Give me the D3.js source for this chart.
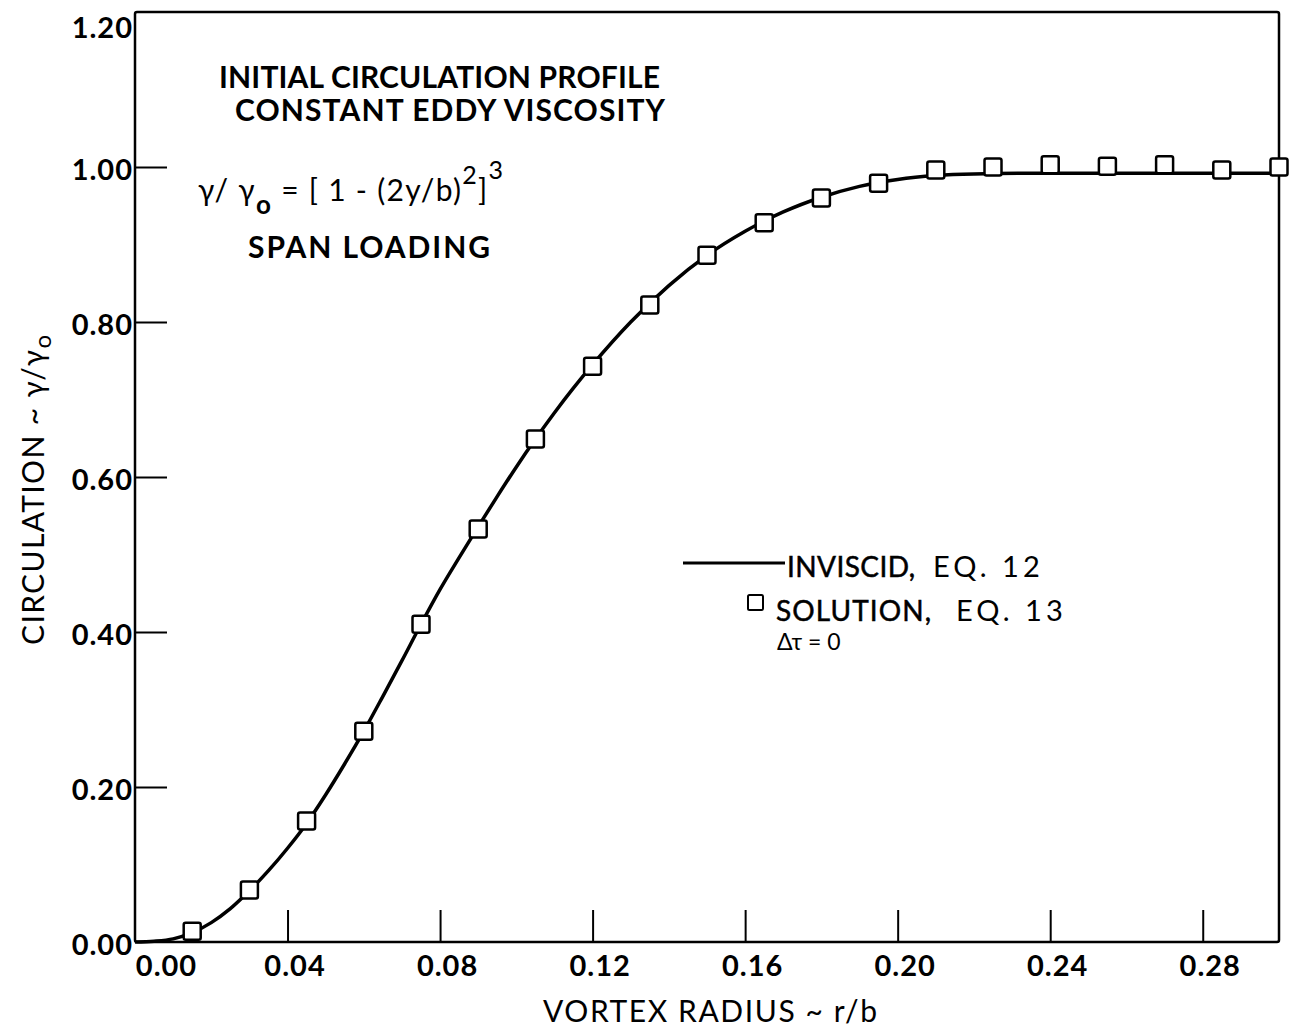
<!DOCTYPE html>
<html>
<head>
    <meta charset="utf-8">
    <style>
        body {
            margin: 0;
            background: white;
        }

        svg {
            display: block;
            font-family: 'Lato', 'Liberation Sans', sans-serif;
        }

        .tick-label {
            font-size: 29px;
            font-weight: 700;
            letter-spacing: 1px;
        }

        .note {
            font-size: 30px;
            font-weight: 700;
        }

        .legend-text {
            font-size: 28px;
            font-weight: 400;
            stroke: black;
            stroke-width: 0.5px;
        }

        .eqno {
            font-size: 29px;
            letter-spacing: 4px;
        }
    </style>
</head>

<body>
    <svg width="1292" height="1030"></svg>
</body>

<script src="https://d3js.org/d3.v7.min.js"></script>

<script>
    // inviscid curve
    const lineX = [0.000, 0.005, 0.010, 0.015, 0.020, 0.025, 0.030, 0.035, 0.040, 0.045,
        0.050, 0.055, 0.060, 0.065, 0.070, 0.075, 0.080, 0.085, 0.090, 0.095,
        0.100, 0.105, 0.110, 0.115, 0.120, 0.130, 0.140, 0.150, 0.160, 0.170,
        0.180, 0.190, 0.200, 0.210, 0.220, 0.240, 0.260, 0.280, 0.300]
    const lineY = [0.000, 0.001, 0.004, 0.012, 0.025, 0.043, 0.066, 0.092, 0.121, 0.153,
        0.190, 0.230, 0.272, 0.317, 0.363, 0.410, 0.455, 0.496, 0.536, 0.575,
        0.613, 0.649, 0.683, 0.715, 0.745, 0.800, 0.847, 0.886, 0.917, 0.942,
        0.961, 0.975, 0.984, 0.989, 0.991, 0.992, 0.992, 0.992, 0.992]

    // solution points (squares)
    const solX = [0.015, 0.030, 0.045, 0.060, 0.075, 0.090, 0.105, 0.120, 0.135, 0.150,
        0.165, 0.180, 0.195, 0.210, 0.225, 0.240, 0.255, 0.270, 0.285, 0.300]
    const solY = [0.014, 0.067, 0.156, 0.272, 0.410, 0.533, 0.649, 0.743, 0.822, 0.886,
        0.928, 0.960, 0.979, 0.996, 1.000, 1.003, 1.001, 1.003, 0.996, 1.000]

    const xTicks = [0.00, 0.04, 0.08, 0.12, 0.16, 0.20, 0.24, 0.28]
    const yTicks = [0.00, 0.20, 0.40, 0.60, 0.80, 1.00, 1.20]

    let width = 1292
    let height = 1030
    let margin = { top: 12, right: 13, bottom: 88, left: 135 }

    let svg = d3.select("svg")

    let x = d3.scaleLinear()
        .domain([0, 0.30])
        .range([margin.left, width - margin.right])

    let y = d3.scaleLinear()
        .domain([0, 1.20])
        .range([height - margin.bottom, margin.top])

    let fmt = d3.format(".2f")

    // frame
    svg.append("rect")
        .attr("x", x(0))
        .attr("y", y(1.2))
        .attr("width", x(0.30) - x(0))
        .attr("height", y(0) - y(1.2))
        .attr("rx", 2)
        .style("fill", "none")
        .style("stroke", "black")
        .style("stroke-width", 2.5)

    // x ticks, pointing up into the plot
    let xAxis = svg.append("g")
        .attr("transform", `translate(0,${y(0)})`)
        .call(d3.axisBottom(x).tickValues(xTicks).tickSize(-32).tickFormat(fmt))

    xAxis.select(".domain").remove()
    xAxis.selectAll(".tick line")
        .filter(d => d == 0)
        .remove()
    xAxis.selectAll(".tick line")
        .style("stroke", "black")
        .style("stroke-width", 2)
    xAxis.selectAll(".tick text")
        .attr("class", "tick-label")
        .attr("y", 34)
        .attr("dx", d => d == 0 ? 31 : 7)
        .attr("dy", 0)
        .style("fill", "black")
        .style("font-family", "'Lato', 'Liberation Sans', sans-serif")

    // y ticks, pointing right into the plot
    let yAxis = svg.append("g")
        .attr("transform", `translate(${x(0)},0)`)
        .call(d3.axisRight(y).tickValues(yTicks).tickSize(32).tickFormat(fmt))

    yAxis.select(".domain").remove()
    yAxis.selectAll(".tick line")
        .filter(d => d == 0 || d == 1.2)
        .remove()
    yAxis.selectAll(".tick line")
        .style("stroke", "black")
        .style("stroke-width", 2)
    yAxis.selectAll(".tick text")
        .attr("class", "tick-label")
        .attr("x", -2)
        .attr("y", d => d == 1.2 ? 15 : 2)
        .attr("dy", "0.36em")
        .attr("text-anchor", "end")
        .style("fill", "black")
        .style("font-family", "'Lato', 'Liberation Sans', sans-serif")

    // inviscid line
    let pts = lineX.map((d, i) => [d, lineY[i]])
    let line = d3.line()
        .x(d => x(d[0]))
        .y(d => y(d[1]))
        .curve(d3.curveMonotoneX)

    svg.append("path")
        .attr("d", line(pts))
        .style("fill", "none")
        .style("stroke", "black")
        .style("stroke-width", 3.5)

    // solution squares
    let sq = 17
    svg.selectAll(".sol")
        .data(solX.map((d, i) => [d, solY[i]]))
        .join("rect")
        .attr("class", "sol")
        .attr("x", d => x(d[0]) - sq / 2)
        .attr("y", d => y(d[1]) - sq / 2)
        .attr("width", sq)
        .attr("height", sq)
        .attr("rx", 2)
        .style("fill", "white")
        .style("stroke", "black")
        .style("stroke-width", 2.5)

    // notes in the plot
    svg.append("text")
        .attr("class", "note")
        .attr("x", 219).attr("y", 88)
        .attr("textLength", 441)
        .text("INITIAL CIRCULATION PROFILE")

    svg.append("text")
        .attr("class", "note")
        .attr("x", 235).attr("y", 121)
        .attr("textLength", 430)
        .text("CONSTANT EDDY VISCOSITY")

    let eq = svg.append("text")
        .attr("class", "note")
        .attr("x", 198).attr("y", 201)
        .attr("textLength", 305)
        .style("font-weight", 400)
    eq.append("tspan").text("γ/ γ")
    eq.append("tspan").attr("dy", 13).style("font-size", "26px").style("font-weight", 700).text("o")
    eq.append("tspan").attr("dy", -13).text(" = [ 1 - (2y/b)")
    eq.append("tspan").attr("dy", -17).style("font-size", "25px").text("2")
    eq.append("tspan").attr("dy", 17).text("]")
    eq.append("tspan").attr("dy", -22).style("font-size", "25px").text("3")

    svg.append("text")
        .attr("class", "note")
        .attr("x", 248).attr("y", 258)
        .attr("textLength", 242)
        .text("SPAN LOADING")

    // legend
    svg.append("line")
        .attr("x1", 683).attr("x2", 785)
        .attr("y1", 563).attr("y2", 563)
        .style("stroke", "black")
        .style("stroke-width", 3)

    svg.append("text")
        .attr("class", "legend-text")
        .attr("x", 787).attr("y", 577)
        .attr("textLength", 128)
        .text("INVISCID,")
    svg.append("text")
        .attr("class", "eqno")
        .attr("x", 933).attr("y", 577)
        .text("EQ. 12")

    svg.append("rect")
        .attr("x", 748).attr("y", 595)
        .attr("width", 15).attr("height", 15)
        .attr("rx", 1.5)
        .style("fill", "white")
        .style("stroke", "black")
        .style("stroke-width", 2)

    svg.append("text")
        .attr("class", "legend-text")
        .attr("x", 776).attr("y", 621)
        .attr("textLength", 155)
        .text("SOLUTION,")
    svg.append("text")
        .attr("class", "eqno")
        .attr("x", 956).attr("y", 621)
        .text("EQ. 13")

    svg.append("text")
        .style("font-size", "23px")
        .attr("x", 777).attr("y", 650)
        .text("Δτ = 0")

    // axis titles
    svg.append("text")
        .attr("x", 543).attr("y", 1022)
        .attr("textLength", 334)
        .style("font-size", "30px")
        .text("VORTEX RADIUS  ~  r/b")

    let yt = svg.append("text")
        .attr("transform", "translate(44,645) rotate(-90)")
        .attr("textLength", 310)
        .style("font-size", "30px")
    yt.append("tspan").text("CIRCULATION ~ γ/γ")
    yt.append("tspan").attr("dy", 7).style("font-size", "24px").text("o")
</script>
</html>
